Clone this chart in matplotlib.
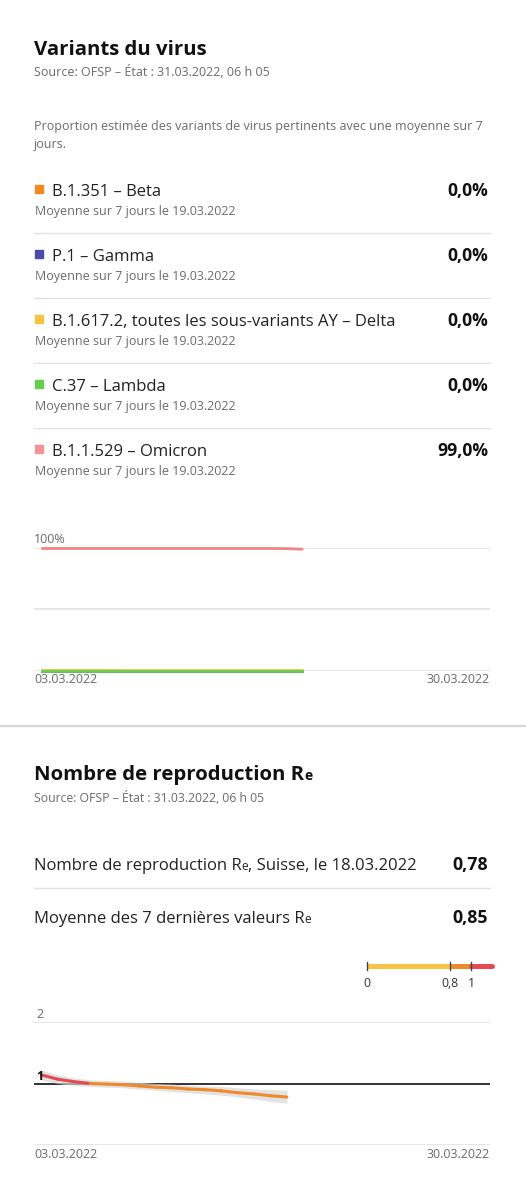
import matplotlib
matplotlib.use("Agg")
import matplotlib.pyplot as plt
import matplotlib.dates as mdates
from matplotlib.collections import LineCollection
import numpy as np
import pandas as pd

plt.rcParams['font.family'] = ['Open Sans', 'DejaVu Sans']

# ---------------- data ----------------
variant_names = ["B.1.351 – Beta", "P.1 – Gamma",
                 "B.1.617.2, toutes les sous-variants AY – Delta",
                 "C.37 – Lambda", "B.1.1.529 – Omicron"]
variant_colors = ["#f0891f", "#4b4aa8", "#f6c343", "#62cf4f", "#f09494"]
variant_latest = ["0,0%", "0,0%", "0,0%", "0,0%", "99,0%"]
variant_sub = "Moyenne sur 7 jours le 19.03.2022"

var_dates = pd.date_range("2022-03-03", "2022-03-19", freq="D")
beta_vals = [0.0] * 17
gamma_vals = [0.0] * 17
delta_vals = [0.1, 0.1, 0.1, 0.1, 0.1, 0.0, 0.0, 0.0, 0.0, 0.0, 0.0, 0.0, 0.0, 0.0, 0.0, 0.0, 0.0]
lambda_vals = [0.0] * 17
omicron_vals = [99.6, 99.6, 99.6, 99.6, 99.6, 99.6, 99.6, 99.6, 99.6, 99.6,
                99.6, 99.6, 99.6, 99.6, 99.6, 99.5, 99.0]

re_dates = pd.date_range("2022-03-03", "2022-03-18", freq="D")
re_vals = [1.14, 1.07, 1.03, 1.00, 0.99, 0.98, 0.96, 0.94, 0.93, 0.91,
           0.90, 0.88, 0.85, 0.83, 0.80, 0.78]
re_low = [1.06, 1.00, 0.97, 0.95, 0.94, 0.93, 0.91, 0.89, 0.87, 0.85,
          0.83, 0.81, 0.78, 0.75, 0.71, 0.68]
re_high = [1.22, 1.14, 1.09, 1.06, 1.05, 1.04, 1.02, 1.00, 0.99, 0.97,
           0.96, 0.95, 0.93, 0.91, 0.90, 0.89]
re_rows = ["Nombre de reproduction R", "Moyenne des 7 dernières valeurs R"]
re_row_tails = [", Suisse, le 18.03.2022", ""]
re_row_values = ["0,78", "0,85"]
scale_ticks = [0, 0.8, 1]
scale_labels = ["0", "0,8", "1"]
scale_colors = ["#f6c343", "#ef8a2c", "#e44a4f"]
scale_bounds = [0, 0.8, 1.0, 1.2]

x_start_label = "03.03.2022"
x_end_label = "30.03.2022"

# ---------------- layout ----------------
W, H = 526, 1200
fig = plt.figure(figsize=(W / 100, H / 100), dpi=100)
fig.patch.set_facecolor("white")
renderer = fig.canvas.get_renderer()

def P(x, y):
    return x / W, 1 - y / H

def T(x, y, s, **kw):
    return fig.text(*P(x, y), s, va="baseline", **kw)

def ax_px(x0, y0, x1, y1):
    return fig.add_axes([x0 / W, 1 - y1 / H, (x1 - x0) / W, (y1 - y0) / H])

def hline(y, x0, x1, color="#e3e3e3", lw=1.0):
    fig.add_artist(plt.Line2D([x0 / W, x1 / W], [1 - y / H, 1 - y / H],
                              color=color, lw=lw, transform=fig.transFigure))

dark = "#111111"
gray = "#6b6b6b"
LEFT, RIGHT = 34, 490
VALX = 488

# ---- Section 1 ----
T(LEFT, 55, "Variants du virus", fontsize=14.7, fontweight="bold", color=dark)
T(LEFT, 76, "Source: OFSP – État : 31.03.2022, 06 h 05", fontsize=9.0, color=gray)
T(LEFT, 130, "Proportion estimée des variants de virus pertinents avec une moyenne sur 7",
  fontsize=9.0, color=gray)
T(LEFT, 148, "jours.", fontsize=9.0, color=gray)

for i, (name, col, val) in enumerate(zip(variant_names, variant_colors, variant_latest)):
    yb = 196 + 65 * i
    fig.add_artist(plt.Rectangle(P(35, yb - 3), 8 / W, 8 / H, color=col,
                                 transform=fig.transFigure))
    T(52, yb, name, fontsize=12, color="#222222")
    T(VALX, yb, val, fontsize=12.6, fontweight="bold", color=dark, ha="right")
    T(LEFT + 1, yb + 19, variant_sub, fontsize=9.0, color=gray)
    if i < 4:
        hline(yb + 37, LEFT, RIGHT)

# chart 1
ax1 = ax_px(LEFT, 548, RIGHT, 670.5)
ax1.set_ylim(0, 100)
xl = (pd.Timestamp("2022-03-02 13:30"), pd.Timestamp("2022-03-30 09:30"))
ax1.set_xlim(*xl)
for v in [100, 50, 0]:
    ax1.axhline(v, color="#e2e2e2", lw=1.2, zorder=0)
series = [beta_vals, gamma_vals, delta_vals, omicron_vals, lambda_vals]
cols = [variant_colors[0], variant_colors[1], variant_colors[2], "#ee8585", variant_colors[3]]
for s, c in zip(series, cols):
    ax1.plot(var_dates, s, color=c, lw=2, solid_capstyle="butt", clip_on=False)
ax1.axis("off")
T(LEFT, 543, "100%", fontsize=9.0, color=gray)
T(LEFT, 683, x_start_label, fontsize=9.0, color=gray)
T(RIGHT, 683, x_end_label, fontsize=9.0, color=gray, ha="right")

# separator between sections
hline(725.5, 0, W, color="#d6d6d6", lw=1.6)

# ---- Section 2 ----
t = T(LEFT, 780, "Nombre de reproduction R", fontsize=14.7, fontweight="bold", color=dark)
bb = t.get_window_extent(renderer)
fig.text(bb.x1 / W + 0.5 / W, 1 - 780 / H, "e", fontsize=10, fontweight="bold",
         color=dark, va="baseline")
T(LEFT, 802, "Source: OFSP – État : 31.03.2022, 06 h 05", fontsize=8.8, color=gray)

for i, (lab, tail, val) in enumerate(zip(re_rows, re_row_tails, re_row_values)):
    yb = 870 + 53 * i
    t = T(LEFT, yb, lab, fontsize=12, color="#222222")
    bb = t.get_window_extent(renderer)
    t2 = fig.text(bb.x1 / W, 1 - yb / H, "e", fontsize=8.6, color="#222222", va="baseline")
    bb2 = t2.get_window_extent(renderer)
    if tail:
        fig.text(bb2.x1 / W, 1 - yb / H, tail, fontsize=12, color="#222222", va="baseline")
    T(VALX, yb, val, fontsize=12.8, fontweight="bold", color=dark, ha="right")
    if i == 0:
        hline(888, LEFT, RIGHT)

# colour scale legend
axs = ax_px(367, 962, 492, 977)
axs.set_xlim(0, 1.2)
axs.set_ylim(-1, 1)
for j, c in enumerate(scale_colors):
    axs.plot([scale_bounds[j], scale_bounds[j + 1]], [0.45, 0.45], color=c, lw=3.6,
             solid_capstyle="round" if j == 2 else "butt", clip_on=False)
for tk in scale_ticks:
    axs.plot([tk, tk], [0.95, -0.1], color="#444444", lw=1, clip_on=False)
axs.axis("off")
for tk, lb in zip(scale_ticks, scale_labels):
    fig.text((367 + tk / 1.2 * 125) / W, 1 - 987 / H, lb, fontsize=8.8, color="#333333",
             ha="center", va="baseline")

# chart 2
ax2 = ax_px(LEFT, 1022, RIGHT, 1145)
ax2.set_ylim(0, 2)
ax2.set_xlim(*xl)
ax2.axhline(2, color="#e2e2e2", lw=1.2, zorder=0)
ax2.axhline(0, color="#e2e2e2", lw=1.2, zorder=0)
ax2.axhline(1, color="#222222", lw=1.3, zorder=1)
ax2.fill_between(re_dates, re_low, re_high, color="#d6d6d6", alpha=0.7, lw=0, zorder=2)
xn = mdates.date2num(re_dates)
pts = np.column_stack([xn, re_vals])
segs = np.stack([pts[:-1], pts[1:]], axis=1)
seg_cols = []
for v in re_vals[:-1]:
    if v > 1.0:
        seg_cols.append(scale_colors[2])
    elif v >= 0.8:
        seg_cols.append(scale_colors[1])
    else:
        seg_cols.append(scale_colors[0])
lc = LineCollection(segs, colors=seg_cols, lw=2.2, zorder=3, capstyle="round")
ax2.add_collection(lc)
ax2.axis("off")
T(36, 1018, "2", fontsize=9.0, color=gray)
T(36, 1080, "1", fontsize=9.0, color=dark, fontweight="bold")
T(LEFT, 1158, x_start_label, fontsize=9.0, color=gray)
T(RIGHT, 1158, x_end_label, fontsize=9.0, color=gray, ha="right")

fig.savefig("out.png", dpi=100, facecolor="white")
